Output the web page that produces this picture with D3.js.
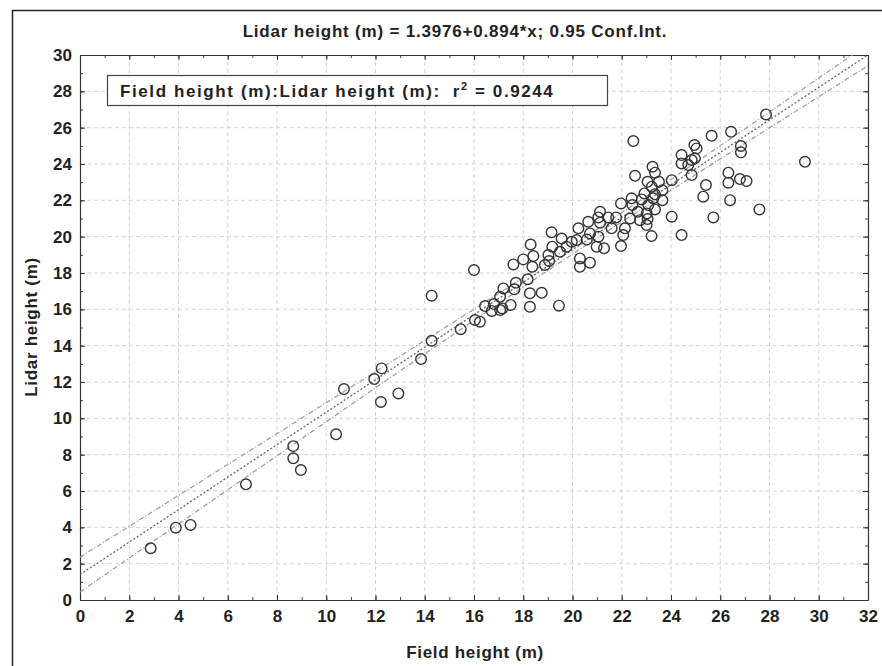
<!DOCTYPE html>
<html>
<head>
<meta charset="utf-8">
<script src="https://cdn.jsdelivr.net/npm/d3@7"></script>
<style>
  body { margin: 0; background: #fff; }
  text { font-family: "Liberation Sans", Arial, sans-serif; fill: #222; }
</style>
</head>
<body>
<div id="chart"></div>
<script>
// Field height (x) and Lidar height (y)
const fieldHeight = [
  2.87, 3.89, 4.49, 6.74, 8.66, 8.66, 8.97, 10.4,
  14.28, 15.46, 14.28, 13.85, 12.25, 11.95, 10.72, 12.93, 12.22,
  19.15, 19.56, 19.97, 19.76, 18.3, 19.18, 19.49, 19.02, 18.41, 18.0, 17.6, 18.37, 18.88, 19.05,
  16.0, 18.18, 17.7, 17.64, 17.19, 17.06, 18.27, 18.75, 16.45, 16.81, 17.15, 17.49, 16.72, 17.06,
  18.27, 19.45, 16.04, 16.24,
  22.47, 23.25, 23.35, 22.54, 23.05, 23.51, 24.03, 23.22, 23.65, 22.92, 23.35, 22.4, 22.81, 23.65,
  23.28, 21.97, 22.43, 23.08, 22.65, 23.35, 23.01, 22.34, 22.74, 23.05, 23.01, 24.03, 21.12, 21.05,
  21.45, 21.77, 20.64, 21.12, 21.59, 22.13, 20.24, 20.71, 21.05, 22.06, 20.17, 20.58, 20.98, 21.28,
  21.97, 23.21, 20.3, 20.71, 20.3,
  27.86, 26.44, 25.65, 24.95, 25.04, 26.84, 26.84, 29.44, 24.43, 24.84, 24.97, 24.7, 24.43, 24.84,
  26.33, 26.33, 26.8, 27.07, 25.42, 25.31, 26.4, 27.59, 25.72, 24.43
];
const lidarHeight = [
  2.85, 3.98, 4.13, 6.37, 8.47, 7.8, 7.15, 9.12,
  16.75, 14.91, 14.27, 13.26, 12.75, 12.16, 11.61, 11.37, 10.9,
  20.24, 19.9, 19.72, 19.45, 19.57, 19.45, 19.17, 18.99, 18.93, 18.75, 18.47, 18.34, 18.44, 18.66,
  18.16, 17.65, 17.46, 17.1, 17.15, 16.69, 16.88, 16.91, 16.18, 16.29, 16.05, 16.24, 15.91, 15.96,
  16.14, 16.2, 15.41, 15.32,
  25.26, 23.85, 23.52, 23.35, 23.02, 23.02, 23.11, 22.75, 22.56, 22.38, 22.33, 22.11, 22.05, 22.01,
  22.11, 21.83, 21.74, 21.74, 21.37, 21.5, 21.28, 21.0, 20.91, 20.97, 20.64, 21.1, 21.37, 21.06,
  21.06, 21.06, 20.82, 20.77, 20.46, 20.46, 20.46, 20.18, 20.0, 20.09, 19.81, 19.85, 19.44, 19.36,
  19.48, 20.03, 18.8, 18.57, 18.34,
  26.73, 25.77, 25.55, 25.04, 24.86, 24.99, 24.64, 24.12, 24.49, 24.22, 24.31, 23.94, 24.03, 23.39,
  23.52, 22.97, 23.17, 23.06, 22.84, 22.2, 22.01, 21.5, 21.06, 20.09
];

// Fit reported on the chart
const intercept = 1.3976;
const slope = 0.894;
const rSquared = "0.9244";

const xTicks = d3.range(0, 33, 2);
const yTicks = d3.range(0, 31, 2);

const W = 882, H = 666;
const plot = { left: 80, right: 868, top: 55, bottom: 600 };

const svg = d3.select("#chart").append("svg")
  .attr("width", W)
  .attr("height", H);

// outer frame
svg.append("rect")
  .attr("x", 12.5).attr("y", 10.5)
  .attr("width", W + 10).attr("height", H + 10)
  .attr("fill", "none")
  .attr("stroke", "#222")
  .attr("stroke-width", 1.5);

const x = d3.scaleLinear().domain([0, 32]).range([plot.left, plot.right]);
const y = d3.scaleLinear().domain([0, 30]).range([plot.bottom, plot.top]);

// grid lines
const grid = svg.append("g");
grid.selectAll(".vgrid")
  .data(xTicks.slice(1, -1))
  .enter().append("line")
  .attr("x1", d => x(d)).attr("x2", d => x(d))
  .attr("y1", plot.top).attr("y2", plot.bottom)
  .attr("stroke", "#d4d4d4")
  .attr("stroke-width", 1)
  .attr("stroke-dasharray", "4,3");
grid.selectAll(".hgrid")
  .data(yTicks.slice(1, -1))
  .enter().append("line")
  .attr("y1", d => y(d)).attr("y2", d => y(d))
  .attr("x1", plot.left).attr("x2", plot.right)
  .attr("stroke", "#d4d4d4")
  .attr("stroke-width", 1)
  .attr("stroke-dasharray", "4,3");

// axes: all four sides, ticks pointing inward, minor ticks every unit
function addAxis(axisFn, scale, ticks, minor, transform, labels) {
  svg.append("g")
    .attr("transform", transform)
    .call(axisFn(scale).tickValues(minor).tickSize(-3).tickFormat(""))
    .call(g => g.select(".domain").remove())
    .call(g => g.selectAll("line").attr("stroke", "#444"));
  const g = svg.append("g")
    .attr("transform", transform)
    .call(axisFn(scale).tickValues(ticks).tickSizeInner(-5).tickSizeOuter(0).tickPadding(10)
      .tickFormat(labels ? d3.format("d") : ""));
  g.select(".domain").attr("stroke", "#333").attr("stroke-width", 1.2);
  g.selectAll("line").attr("stroke", "#333");
  g.selectAll("text")
    .style("font-family", "'Liberation Sans', Arial, sans-serif")
    .style("font-size", "17px")
    .style("font-weight", "bold")
    .attr("fill", "#222");
  return g;
}
const xMinor = d3.range(0, 33, 1);
const yMinor = d3.range(0, 31, 1);
addAxis(d3.axisBottom, x, xTicks, xMinor, `translate(0,${plot.bottom})`, true);
addAxis(d3.axisTop, x, xTicks, xMinor, `translate(0,${plot.top})`, false);
addAxis(d3.axisLeft, y, yTicks, yMinor, `translate(${plot.left},0)`, true)
  .selectAll("text").attr("x", -8);
addAxis(d3.axisRight, y, yTicks, yMinor, `translate(${plot.right},0)`, false);

// regression line and 95% confidence band computed from the points
const n = fieldHeight.length;
const xMean = d3.mean(fieldHeight);
const sxx = d3.sum(fieldHeight, v => (v - xMean) ** 2);
const sse = d3.sum(fieldHeight, (v, i) => (lidarHeight[i] - (intercept + slope * v)) ** 2);
const s = Math.sqrt(sse / (n - 2));
const tCrit = 1.977;
const band = xv => tCrit * s * Math.sqrt(1 / n + (xv - xMean) ** 2 / sxx);

svg.append("clipPath").attr("id", "clip")
  .append("rect")
  .attr("x", plot.left).attr("y", plot.top)
  .attr("width", plot.right - plot.left).attr("height", plot.bottom - plot.top);

const xs = d3.range(0, 32.01, 0.25);
const lineGen = f => d3.line().x(d => x(d)).y(d => y(f(d)))(xs);
const fitG = svg.append("g").attr("clip-path", "url(#clip)");
fitG.append("path")
  .attr("d", lineGen(v => intercept + slope * v + band(v)))
  .attr("fill", "none").attr("stroke", "#999").attr("stroke-width", 1.2)
  .attr("stroke-dasharray", "5,2,1,2");
fitG.append("path")
  .attr("d", lineGen(v => intercept + slope * v - band(v)))
  .attr("fill", "none").attr("stroke", "#999").attr("stroke-width", 1.2)
  .attr("stroke-dasharray", "5,2,1,2");
fitG.append("path")
  .attr("d", lineGen(v => intercept + slope * v))
  .attr("fill", "none").attr("stroke", "#666").attr("stroke-width", 1.3)
  .attr("stroke-dasharray", "2,2");

// points
svg.append("g").selectAll("circle")
  .data(fieldHeight.map((v, i) => [v, lidarHeight[i]]))
  .enter().append("circle")
  .attr("cx", d => x(d[0]))
  .attr("cy", d => y(d[1]))
  .attr("r", 5.3)
  .attr("fill", "none")
  .attr("stroke", "#333")
  .attr("stroke-width", 1.4);

// legend box
svg.append("rect")
  .attr("x", 107.5).attr("y", 75.5)
  .attr("width", 500).attr("height", 30)
  .attr("fill", "#fff")
  .attr("stroke", "#444")
  .attr("stroke-width", 1.2);
const leg = svg.append("text")
  .attr("x", 120).attr("y", 97)
  .style("font-size", "17px")
  .style("font-weight", "bold")
  .style("letter-spacing", "1.6px");
leg.append("tspan").text("Field height (m):Lidar height (m):");
leg.append("tspan").attr("dx", 12).text("r");
leg.append("tspan").attr("dy", -7).style("font-size", "11px").text("2");
leg.append("tspan").attr("dy", 7).text(" = " + rSquared);

// title and axis labels
svg.append("text")
  .attr("x", 455).attr("y", 37)
  .attr("text-anchor", "middle")
  .style("font-size", "17px")
  .style("font-weight", "bold")
  .style("letter-spacing", "0.8px")
  .text("Lidar height (m) = 1.3976+0.894*x; 0.95 Conf.Int.");

svg.append("text")
  .attr("x", 475).attr("y", 658)
  .attr("text-anchor", "middle")
  .style("font-size", "17px")
  .style("font-weight", "bold")
  .style("letter-spacing", "0.7px")
  .text("Field height (m)");

svg.append("text")
  .attr("transform", "translate(37,327) rotate(-90)")
  .attr("text-anchor", "middle")
  .style("font-size", "17px")
  .style("font-weight", "bold")
  .style("letter-spacing", "0.7px")
  .text("Lidar height (m)");
</script>
</body>
</html>
